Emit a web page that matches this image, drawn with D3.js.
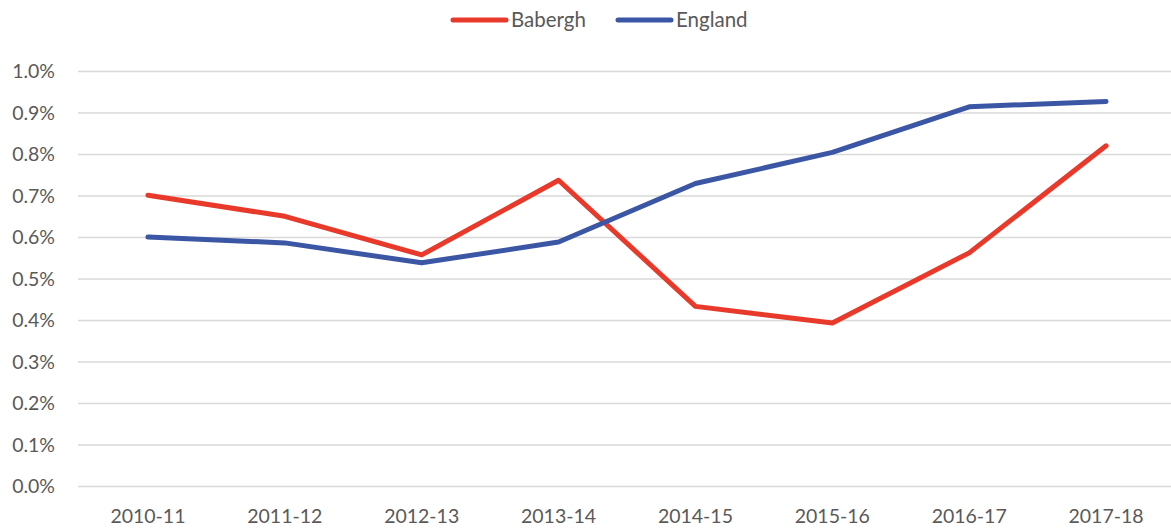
<!DOCTYPE html>
<html>
<head>
<meta charset="utf-8">
<script src="https://cdn.jsdelivr.net/npm/d3@7"></script>
<style>
  body { margin: 0; background: #fff; }
  text { font-family: Lato, "Noto Sans", sans-serif; fill: #595959; }
</style>
</head>
<body>
<div id="chart"></div>
<script>
// years and the two series (percent)
const years = ["2010-11", "2011-12", "2012-13", "2013-14", "2014-15", "2015-16", "2016-17", "2017-18"];
const babergh = [0.702, 0.651, 0.558, 0.738, 0.434, 0.394, 0.563, 0.821];
const england = [0.601, 0.587, 0.539, 0.589, 0.730, 0.805, 0.915, 0.928];
const yTicks = [0, 0.1, 0.2, 0.3, 0.4, 0.5, 0.6, 0.7, 0.8, 0.9, 1.0];

const series = [
    {name: "Babergh", values: babergh, color: "#e8392a"},
    {name: "England", values: england, color: "#3b56a5"}
];

const width = 1171, height = 530,
      margin = {top: 71.5, right: -3.5, bottom: 43.5, left: 79.5};

const svg = d3.select("#chart")
    .append("svg")
    .attr("width", width)
    .attr("height", height);

const x = d3.scaleBand()
    .domain(years)
    .range([margin.left, width - margin.right]);

const y = d3.scaleLinear()
    .domain([0, 1])
    .range([height - margin.bottom, margin.top]);

// gridlines
svg.append("g")
    .selectAll("line")
    .data(yTicks)
    .join("line")
    .attr("x1", 78)
    .attr("x2", width)
    .attr("y1", d => y(d))
    .attr("y2", d => y(d))
    .attr("stroke", "#d9d9d9")
    .attr("stroke-width", 1.5);

// y labels
svg.append("g")
    .selectAll("text")
    .data(yTicks)
    .join("text")
    .attr("x", 55)
    .attr("y", d => y(d))
    .attr("dy", "0.35em")
    .attr("text-anchor", "end")
    .style("font-size", "19.5px")
    .text(d => d.toFixed(1) + "%");

// x labels
svg.append("g")
    .selectAll("text")
    .data(years)
    .join("text")
    .attr("x", d => x(d) + x.bandwidth() / 2)
    .attr("y", 523)
    .attr("text-anchor", "middle")
    .style("font-size", "19.5px")
    .text(d => d);

const line = d3.line()
    .x((d, i) => x(years[i]) + x.bandwidth() / 2)
    .y(d => y(d));

svg.append("g")
    .selectAll("path")
    .data(series)
    .join("path")
    .attr("d", d => line(d.values))
    .attr("fill", "none")
    .attr("stroke", d => d.color)
    .attr("stroke-width", 5)
    .attr("stroke-linejoin", "round")
    .attr("stroke-linecap", "round");

// legend
const legend = svg.append("g")
    .selectAll("g")
    .data(series)
    .join("g")
    .attr("transform", (d, i) => `translate(${453 + i * 165}, 20)`);

legend.append("line")
    .attr("x1", 0)
    .attr("x2", 53)
    .attr("stroke", d => d.color)
    .attr("stroke-width", 5)
    .attr("stroke-linecap", "round");

legend.append("text")
    .attr("x", 58)
    .attr("dy", "0.35em")
    .style("font-size", "20.5px")
    .text(d => d.name);
</script>
</body>
</html>
